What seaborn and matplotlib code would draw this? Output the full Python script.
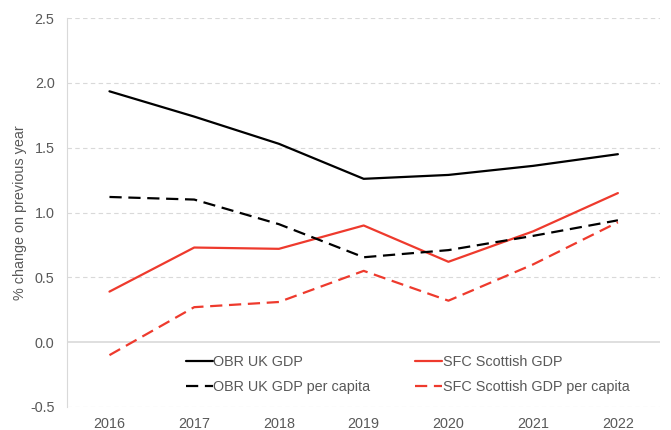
import matplotlib
matplotlib.use("Agg")
import matplotlib.pyplot as plt
import seaborn as sns
import pandas as pd

years = ["2016", "2017", "2018", "2019", "2020", "2021", "2022"]
obr_uk_gdp = [1.935, 1.74, 1.53, 1.26, 1.29, 1.36, 1.45]
sfc_scot_gdp = [0.39, 0.73, 0.72, 0.90, 0.62, 0.855, 1.15]
obr_uk_pc = [1.12, 1.10, 0.91, 0.655, 0.71, 0.82, 0.94]
sfc_scot_pc = [-0.10, 0.27, 0.31, 0.55, 0.32, 0.60, 0.925]

series_names = ["OBR UK GDP", "SFC Scottish GDP",
                "OBR UK GDP per capita", "SFC Scottish GDP per capita"]
series_vals = [obr_uk_gdp, sfc_scot_gdp, obr_uk_pc, sfc_scot_pc]

rows = []
for name, vals in zip(series_names, series_vals):
    for y, v in zip(years, vals):
        rows.append({"year": y, "value": v, "series": name})
df = pd.DataFrame(rows)

sns.set_theme(style="white")
plt.rcParams["font.family"] = ["Liberation Sans", "DejaVu Sans"]

BLACK = "#000000"
RED = "#EE3A2D"
GREY = "#595959"
FS = 10.4
DASH = (0, (5.5, 3))

styles = {
    "OBR UK GDP": (BLACK, "-"),
    "SFC Scottish GDP": (RED, "-"),
    "OBR UK GDP per capita": (BLACK, DASH),
    "SFC Scottish GDP per capita": (RED, DASH),
}

fig = plt.figure(figsize=(6.71, 4.30), dpi=100)
ax = fig.add_axes([0.100, 0.0535, 0.884, 0.9045])

for name in series_names:
    color, ls = styles[name]
    sns.lineplot(data=df[df["series"] == name], x="year", y="value",
                 ax=ax, color=color, linestyle=ls, linewidth=1.6,
                 label=name, sort=False)

ax.set_xlim(-0.5, len(years) - 0.5)
ax.set_ylim(-0.5, 2.5)
yt = [-0.5, 0.0, 0.5, 1.0, 1.5, 2.0, 2.5]
ax.set_yticks(yt)
ax.set_yticklabels([f"{t:.1f}" for t in yt])

for t in [-0.5, 0.5, 1.0, 1.5, 2.0, 2.5]:
    ax.axhline(t, color="#D9D9D9", linewidth=0.8, linestyle=(0, (4, 3)), zorder=0)
ax.axhline(0.0, color="#D9D9D9", linewidth=1.2, zorder=0)

for s in ["top", "right", "bottom"]:
    ax.spines[s].set_visible(False)
ax.spines["left"].set_color("#D9D9D9")
ax.spines["left"].set_linewidth(0.8)

ax.tick_params(axis="y", length=0, labelsize=FS, labelcolor=GREY, pad=9)
ax.tick_params(axis="x", length=0, labelsize=FS, labelcolor=GREY, pad=7)
ax.set_xlabel("")
ax.set_ylabel("% change on previous year", fontsize=FS, color=GREY, labelpad=2)

# legend rows: GDP on top, per capita below (matplotlib fills column-wise)
handles, labels = ax.get_legend_handles_labels()
lookup = dict(zip(labels, handles))
order = ["OBR UK GDP", "OBR UK GDP per capita",
         "SFC Scottish GDP", "SFC Scottish GDP per capita"]
leg = ax.legend([lookup[k] for k in order], order,
                loc="center", bbox_to_anchor=(0.574, 0.0835), ncol=2,
                frameon=False, fontsize=FS, handlelength=1.85,
                handletextpad=0.05, columnspacing=3.1, labelspacing=0.72)
for txt in leg.get_texts():
    txt.set_color(GREY)

fig.savefig("out.png", dpi=100)
